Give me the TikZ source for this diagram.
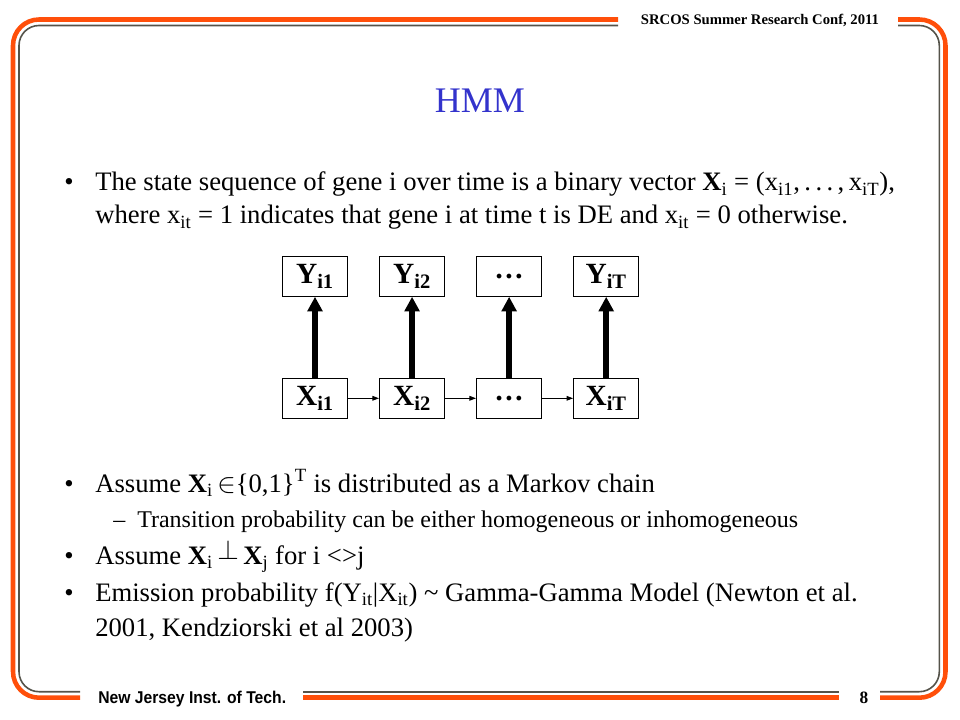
\documentclass[tikz,border=0pt]{standalone}
\usepackage{fontspec}
\setmainfont{Liberation Serif}
\newfontfamily\footfont[FakeStretch=0.92]{Liberation Sans}
\usetikzlibrary{arrows.meta,positioning}
\definecolor{frameorange}{HTML}{FF4F0A}
\definecolor{framegray}{HTML}{55534A}
\definecolor{titleblue}{HTML}{3333CC}

\begin{document}
\begin{tikzpicture}[
    x=0.75pt, y=-0.75pt,
    state/.style={rectangle, draw, line width=0.8pt, minimum width=48.75pt, minimum height=30pt, inner sep=0pt, font=\fontsize{22}{24}\selectfont\bfseries},
    emit/.style={-{Triangle[length=11pt,width=11pt]}, line width=4.5pt},
    trans/.style={-{Triangle[length=5pt,width=3.5pt]}, line width=0.8pt},
    body/.style={anchor=base west, inner sep=0pt, font=\fontsize{20}{24}\selectfont},
    subbody/.style={anchor=base west, inner sep=0pt, font=\fontsize{18}{21}\selectfont},
    orangeline/.style={draw=frameorange, line width=3.4pt, rounded corners=19.5pt},
    grayline/.style={draw=framegray, line width=1.2pt, rounded corners=15pt}
]
    \useasboundingbox (0,0) rectangle (960,720);

    % Frame
    \draw[orangeline] (618,19.5) -- (13,19.5) -- (13,697.7) -- (80,697.7);
    \draw[orangeline] (898,19.5) -- (945.5,19.5) -- (945.5,697.7) -- (880,697.7);
    \draw[orangeline] (303,697.7) -- (839,697.7);
    \draw[grayline] (618,25.5) -- (19,25.5) -- (19,691.7) -- (80,691.7);
    \draw[grayline] (898,25.5) -- (939.3,25.5) -- (939.3,691.7) -- (880,691.7);
    \draw[grayline] (303,691.7) -- (839,691.7);

    % Header and footer
    \node[anchor=base, inner sep=0pt, font=\fontsize{11}{13}\selectfont\bfseries] (conf) at (760,25) {SRCOS Summer Research Conf, 2011};
    \node[anchor=base west, inner sep=0pt, font=\footfont\fontsize{12.8}{14}\selectfont\bfseries] (inst) at (98,703) {New Jersey Inst. of Tech.};
    \node[anchor=base, inner sep=0pt, font=\fontsize{13}{14}\selectfont\bfseries] (page) at (864,703) {8};

    % Title
    \node[anchor=base, inner sep=0pt, text=titleblue, font=\fontsize{27}{32}\selectfont] (title) at (480,113) {HMM};

    % First bullet
    \node[body] (b1) at (64,191) {\textbullet};
    \node[body] (t1a) at (95,191) {The state sequence of gene i over time is a binary vector \textbf{X}\textsubscript{i} = (x\textsubscript{i1},\,.\,.\,.\,,\,x\textsubscript{iT}),};
    \node[body] (t1b) at (95,224) {where x\textsubscript{it} = 1 indicates that gene i at time t is DE and x\textsubscript{it} = 0 otherwise.};

    % Chain
    \node[state] (x1) at (315,398.3) {X\textsubscript{i1}};
    \node[state, right=23.25pt of x1] (x2) {X\textsubscript{i2}};
    \node[state, right=23.25pt of x2] (x3) {\dots};
    \node[state, right=23.25pt of x3] (x4) {X\textsubscript{iT}};
    \node[state, above=60.75pt of x1] (y1) {Y\textsubscript{i1}};
    \node[state, above=60.75pt of x2] (y2) {Y\textsubscript{i2}};
    \node[state, above=60.75pt of x3] (y3) {\dots};
    \node[state, above=60.75pt of x4] (y4) {Y\textsubscript{iT}};

    \draw[emit] (x1) -- (y1);
    \draw[emit] (x2) -- (y2);
    \draw[emit] (x3) -- (y3);
    \draw[emit] (x4) -- (y4);
    \draw[trans] (x1) -- (x2);
    \draw[trans] (x2) -- (x3);
    \draw[trans] (x3) -- (x4);

    % Remaining bullets
    \node[body] (b2) at (64,492) {\textbullet};
    \node[body] (t2) at (95,492) {Assume \textbf{X}\textsubscript{i}\,$\in$\{0,1\}\textsuperscript{T} is distributed as a Markov chain};
    \node[subbody] (d1) at (113,527) {--};
    \node[subbody] (t3) at (137,527) {Transition probability can be either homogeneous or inhomogeneous};
    \node[body] (b3) at (64,564) {\textbullet};
    \node[body] (t4) at (95,564) {Assume \textbf{X}\textsubscript{i}\,\raisebox{0.4ex}{$\perp$}\,\textbf{X}\textsubscript{j} for i <>j};
    \node[body] (b4) at (64,601) {\textbullet};
    \node[body] (t5a) at (95,601) {Emission probability f(Y\textsubscript{it}|X\textsubscript{it}) \textasciitilde{} Gamma-Gamma Model (Newton et al.};
    \node[body] (t5b) at (95,636) {2001, Kendziorski et al 2003)};
\end{tikzpicture}
\end{document}
